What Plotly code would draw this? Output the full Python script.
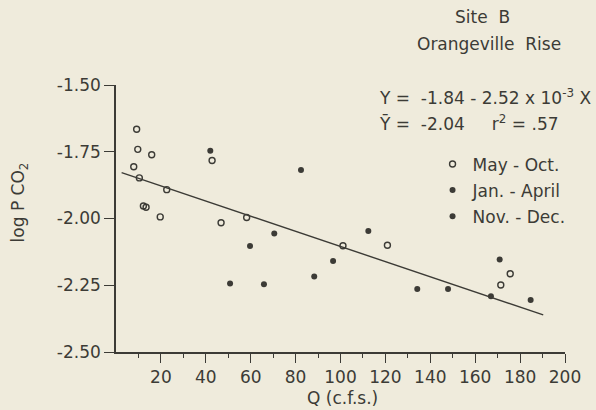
import plotly.graph_objects as go

# ---- data ----
may_oct_q = [9.2, 9.7, 15.9, 7.9, 10.4, 22.6, 12.2, 13.4, 19.7, 42.8, 46.8, 58.2, 101.1, 120.9, 175.6, 171.4]
may_oct_p = [-1.666, -1.741, -1.761, -1.806, -1.848, -1.892, -1.953, -1.958, -1.994, -1.783, -2.016, -1.996, -2.102, -2.100, -2.207, -2.249]

jan_apr_q = [42.0, 70.5, 59.7, 50.8, 65.9, 88.3, 96.7, 134.2, 147.9]
jan_apr_p = [-1.746, -2.056, -2.103, -2.243, -2.246, -2.217, -2.159, -2.264, -2.264]

nov_dec_q = [82.4, 112.4, 167.0, 170.9, 184.7]
nov_dec_p = [-1.818, -2.047, -2.291, -2.154, -2.305]

line_q = [2.5, 190.3]
line_p = [-1.828, -2.361]

x_major = [20, 40, 60, 80, 100, 120, 140, 160, 180, 200]
x_minor = [10, 30, 50, 70, 90, 110, 130, 150, 170, 190]
y_ticks = [-1.50, -1.75, -2.00, -2.25, -2.50]
y_ticktext = ["-1.50", "-1.75", "-2.00", "-2.25", "-2.50"]

INK = "#3c3b36"
BG = "#efebdc"
FONT = "DejaVu Sans"
FS = 17

fig = go.Figure()
fig.add_trace(go.Scatter(x=line_q, y=line_p, mode="lines",
                         line=dict(color=INK, width=1.4), showlegend=False, hoverinfo="skip"))
fig.add_trace(go.Scatter(x=may_oct_q, y=may_oct_p, mode="markers", name="May - Oct.",
                         legendgroup="a",
                         marker=dict(symbol="circle-open", size=6, color=INK, line=dict(width=1.4))))
fig.add_trace(go.Scatter(x=jan_apr_q, y=jan_apr_p, mode="markers", name="Jan. - April",
                         legendgroup="b",
                         marker=dict(symbol="circle", size=6, color=INK)))
fig.add_trace(go.Scatter(x=nov_dec_q, y=nov_dec_p, mode="markers", name="Nov. - Dec.",
                         legendgroup="c",
                         marker=dict(symbol="circle", size=6, color=INK)))

fig.update_layout(
    width=596, height=410,
    margin=dict(l=116, r=31, t=85, b=58),
    paper_bgcolor=BG, plot_bgcolor=BG,
    font=dict(family=FONT, size=FS, color=INK),
    legend=dict(x=0.705, y=0.77, xanchor="left", yanchor="top", bgcolor="rgba(0,0,0,0)",
                tracegroupgap=1, itemwidth=30, font=dict(size=FS)),
    xaxis=dict(range=[0, 200], showgrid=False, zeroline=False, showline=True,
               linecolor=INK, linewidth=1.6, ticks="outside", ticklen=9, tickwidth=1.4,
               tickcolor=INK, tickvals=x_major, ticktext=[str(v) for v in x_major],
               minor=dict(tickvals=x_minor, ticklen=4, tickwidth=1.4, tickcolor=INK, ticks="outside"),
               tickfont=dict(size=FS)),
    yaxis=dict(range=[-2.5, -1.5], showgrid=False, zeroline=False, showline=True,
               linecolor=INK, linewidth=1.6, ticks="outside", ticklen=10, tickwidth=1.4,
               tickcolor=INK, tickvals=y_ticks, ticktext=y_ticktext, tickfont=dict(size=FS)),
)

ann = [
    dict(text="Site  B", x=0.817, y=1.255, xanchor="center", yanchor="middle"),
    dict(text="Orangeville  Rise", x=0.831, y=1.152, xanchor="center", yanchor="middle"),
    dict(text="Y =  -1.84 - 2.52 x 10<sup>-3</sup> X", x=0.581, y=0.955, xanchor="left", yanchor="middle"),
    dict(text="Ȳ =  -2.04     r<sup>2</sup> = .57", x=0.581, y=0.858, xanchor="left", yanchor="middle"),
    dict(text="log P CO<sub>2</sub>", x=-0.214, y=0.56, xanchor="center", yanchor="middle", textangle=-90),
    dict(text="Q (c.f.s.)", x=0.505, y=-0.172, xanchor="center", yanchor="middle"),
]
for a in ann:
    fig.add_annotation(xref="paper", yref="paper", showarrow=False, font=dict(size=FS, color=INK), **a)

fig.write_html("out.html")
